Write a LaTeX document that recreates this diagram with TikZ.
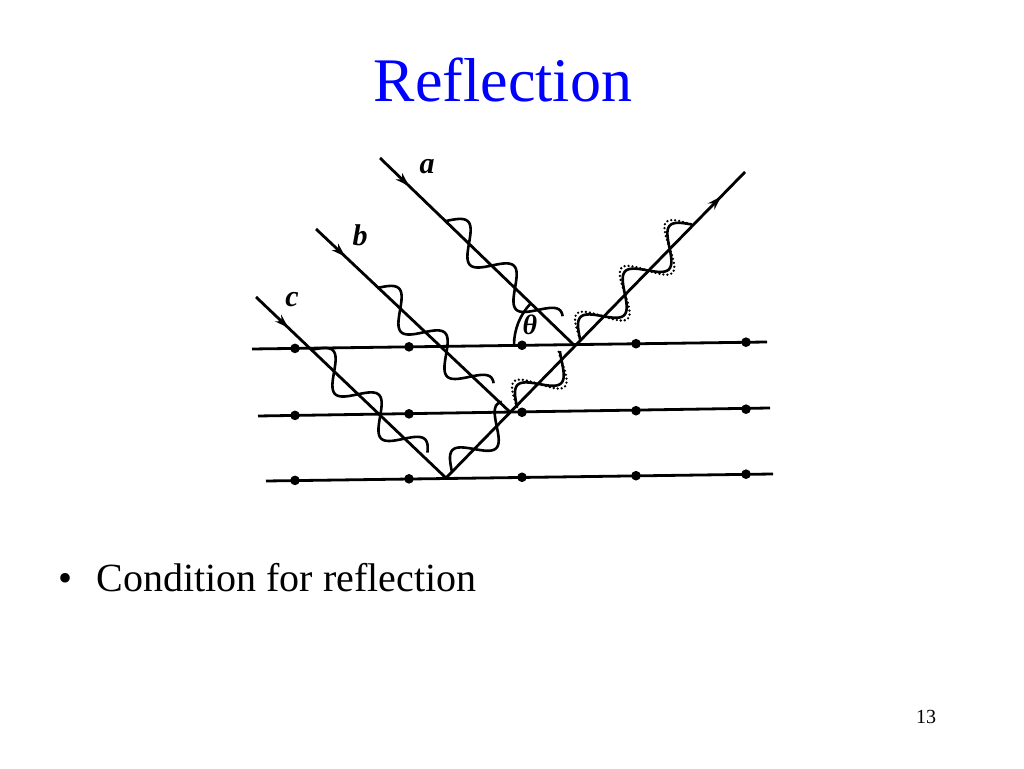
\documentclass[tikz,border=0pt]{standalone}
\usepackage{fontspec}
\setmainfont{Liberation Serif}
\usetikzlibrary{arrows.meta, decorations.markings}
\newcommand{\wavy}[5]{% start, angle, length, amplitude, style
  \begin{scope}[shift={#1}, rotate=#2]
    \draw[#5] plot[domain=0:#3, samples=80, smooth] (\x,{#4*sin(\x/64*360)});
  \end{scope}}
\tikzset{
  ray/.style={line width=2.8pt, postaction={decorate}},
  plane/.style={line width=2.8pt},
  site/.style={circle, fill, inner sep=3.4pt},
  wave/.style={line width=2.6pt},
  halo/.style={line width=2.6pt, dash pattern=on 0pt off 4pt, line cap=round},
  midarrow/.style={decoration={markings, mark=at position #1 with {\arrow{Stealth[length=14pt,width=9pt]}}}}
}
\begin{document}
\begin{tikzpicture}[x=1pt, y=1pt]
\useasboundingbox (0,0) rectangle (1024,768);

\node[text=blue, font=\fontsize{62}{70}\selectfont] (title) at (503,688) {Reflection};
\node[anchor=west, font=\fontsize{40}{46}\selectfont] (cond) at (55,190) {\textbullet\hspace{24pt}Condition for reflection};
\node[font=\fontsize{20}{22}\selectfont] (page) at (926,51) {13};

% lattice planes
\coordinate (p1l) at (252,419); \coordinate (p1r) at (767,426);
\coordinate (p2l) at (258,352); \coordinate (p2r) at (770,360);
\coordinate (p3l) at (266,287); \coordinate (p3r) at (773,294);
\draw[plane] (p1l) -- (p1r);
\draw[plane] (p2l) -- (p2r);
\draw[plane] (p3l) -- (p3r);
\foreach \i/\y in {1/419, 2/352, 3/287}
  \foreach \x in {295, 409, 522, 636, 746}
    \node[site] (s\i\x) at (\x,{\y+(\x-252)*0.0138}) {};

% rays
\coordinate (a0) at (380,610); \coordinate (ha) at (574,423);
\coordinate (b0) at (316,539); \coordinate (hb) at (511,355);
\coordinate (c0) at (256,471); \coordinate (hc) at (446,290);
\coordinate (out) at (745,596);
\draw[ray, midarrow=0.15] (a0) -- (ha);
\draw[ray, midarrow=0.15] (b0) -- (hb);
\draw[ray, midarrow=0.17] (c0) -- (hc);
\draw[ray, midarrow=0.92] (hc) -- (out);

\node[font=\bfseries\itshape\fontsize{30}{30}\selectfont] (la) at (427,601) {a};
\node[font=\bfseries\itshape\fontsize{30}{30}\selectfont] (lb) at (360,533) {b};
\node[font=\bfseries\itshape\fontsize{30}{30}\selectfont] (lc) at (292,468) {c};

% angle
\draw[line width=2.6pt] ([xshift=-60pt]ha) arc[start angle=180, end angle=136, radius=60pt];
\node[font=\bfseries\itshape\fontsize{28}{28}\selectfont] (theta) at (530,443) {θ};

% incoming waves
\wavy{(446,547)}{-44}{150}{15}{wave}
\wavy{(377,480)}{-44}{150}{15}{wave}
\wavy{(311,418)}{-44}{155}{15}{wave}
% reflected waves
\wavy{(452,296)}{45.7}{85}{15}{wave}
\wavy{(517,361)}{45.7}{70}{15}{wave}
\wavy{(580,429)}{45.7}{160}{15}{wave}
\wavy{(517,361)}{45.7}{70}{20}{halo}
\wavy{(580,429)}{45.7}{160}{20}{halo}
\end{tikzpicture}
\end{document}
